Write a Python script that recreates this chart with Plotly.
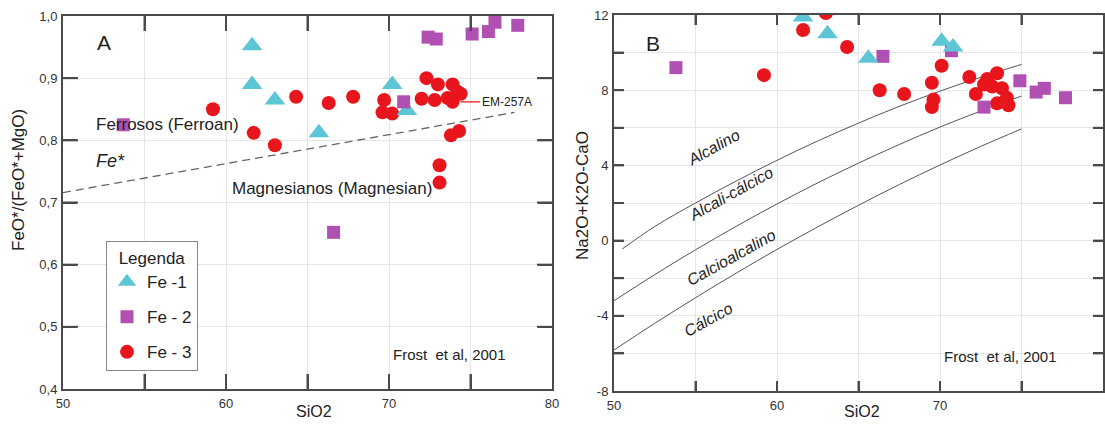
import plotly.graph_objects as go

# ---------------- Panel A data: SiO2 vs FeO*/(FeO*+MgO) ----------------
a_fe1_x = [61.6, 61.6, 63.0, 65.7, 70.2, 71.1]
a_fe1_y = [0.952, 0.890, 0.865, 0.812, 0.890, 0.848]

a_fe2_x = [53.7, 72.4, 72.9, 75.1, 76.1, 76.5, 77.9, 70.9, 66.6]
a_fe2_y = [0.825, 0.966, 0.963, 0.971, 0.975, 0.990, 0.985, 0.862, 0.652]

a_fe3_x = [59.2, 61.7, 63.0, 64.3, 66.3, 67.8, 69.7, 69.6, 70.2, 72.0, 72.3,
           73.0, 72.8, 73.6, 73.9, 73.9, 74.2, 74.4, 73.8, 74.3, 73.1, 73.1]
a_fe3_y = [0.850, 0.812, 0.792, 0.870, 0.860, 0.870, 0.865, 0.845, 0.843, 0.867, 0.900,
           0.890, 0.865, 0.868, 0.862, 0.890, 0.878, 0.875, 0.808, 0.815, 0.760, 0.732]

# Fe* boundary (Frost et al. 2001)
fe_star_x = [50.0, 77.7]
fe_star_y = [0.716, 0.845]

# ---------------- Panel B data: SiO2 vs Na2O+K2O-CaO ----------------
b_fe1_x = [61.6, 63.1, 65.6, 70.1, 70.8]
b_fe1_y = [11.9, 11.0, 9.7, 10.6, 10.3]

b_fe2_x = [53.8, 66.5, 70.7, 72.7, 74.9, 75.9, 76.4, 77.7]
b_fe2_y = [9.2, 9.8, 10.1, 7.1, 8.5, 7.9, 8.1, 7.6]

b_fe3_x = [63.0, 61.6, 64.3, 59.2, 66.3, 67.8, 69.5, 69.6, 69.5, 70.1, 71.8,
           72.2, 72.7, 72.9, 73.5, 73.8, 73.5, 74.1, 74.2, 73.2]
b_fe3_y = [12.1, 11.2, 10.3, 8.8, 8.0, 7.8, 8.4, 7.5, 7.1, 9.3, 8.7,
           7.8, 8.3, 8.6, 8.9, 8.1, 7.3, 7.6, 7.2, 8.2]

# MALI boundary curves
mali1_x = [50.5, 52.5, 55.0, 57.5, 60.0, 62.5, 65.0, 67.5, 70.0, 72.5, 75.0]
mali1_y = [-0.45, 0.75, 2.00, 3.17, 4.27, 5.30, 6.25, 7.14, 7.95, 8.69, 9.37]
mali2_x = [50.0, 52.5, 55.0, 57.5, 60.0, 62.5, 65.0, 67.5, 70.0, 72.5, 75.0]
mali2_y = [-3.20, -1.81, -0.49, 0.76, 1.95, 3.07, 4.12, 5.11, 6.04, 6.89, 7.69]
mali3_x = [50.0, 52.5, 55.0, 57.5, 60.0, 62.5, 65.0, 67.5, 70.0, 72.5, 75.0]
mali3_y = [-5.82, -4.40, -3.04, -1.73, -0.47, 0.73, 1.88, 2.98, 4.02, 5.01, 5.94]

# ticks
x_tickvals = [50, 55, 60, 65, 70, 75, 80]
x_ticktext = ["50", "", "60", "", "70", "", "80"]
a_tickvals = [0.4, 0.5, 0.6, 0.7, 0.8, 0.9, 1.0]
a_ticktext = ["0,4", "0,5", "0,6", "0,7", "0,8", "0,9", "1,0"]
b_tickvals = [-8, -6, -4, -2, 0, 2, 4, 6, 8, 10, 12]
b_ticktext = ["-8", "", "-4", "", "0", "", "4", "", "8", "", "12"]

CYAN = "#5cc6d6"
MAG = "#b150b3"
RED = "#e8161c"
AXC = "#4a4a4a"
FONT = "Liberation Sans, Arial, sans-serif"

W, H = 1105, 428
A_X = [63, 552]     # pixel extent of panel A plot area
A_Y = [16, 389]
B_X = [614, 1103]
B_Y = [15, 391]

fig = go.Figure()

def mk(x, y, xa, ya, sym, size, color, name, show):
    return go.Scatter(x=x, y=y, xaxis=xa, yaxis=ya, mode="markers", name=name,
                      legendgroup=name, showlegend=show,
                      marker=dict(symbol=sym, size=size, color=color, line=dict(width=0)))

# Panel A
fig.add_trace(go.Scatter(x=fe_star_x, y=fe_star_y, xaxis="x", yaxis="y", mode="lines",
                         line=dict(color="#666666", width=1.3, dash="8px,5px"), showlegend=False, hoverinfo="skip"))
fig.add_trace(mk(a_fe3_x, a_fe3_y, "x", "y", "circle", 14, RED, "Fe - 3", False))
fig.add_trace(mk(a_fe1_x, a_fe1_y, "x", "y", "triangle-up", 18, CYAN, "Fe -1", True))
fig.add_trace(mk(a_fe2_x, a_fe2_y, "x", "y", "square", 13, MAG, "Fe - 2", True))
fig.add_trace(mk([None], [None], "x", "y", "circle", 14, RED, "Fe - 3", True))

# Panel B
for mx, my in [(mali1_x, mali1_y), (mali2_x, mali2_y), (mali3_x, mali3_y)]:
    fig.add_trace(go.Scatter(x=mx, y=my, xaxis="x2", yaxis="y2", mode="lines", line_shape="spline",
                             line=dict(color="#555555", width=1), showlegend=False, hoverinfo="skip"))
fig.add_trace(mk(b_fe3_x, b_fe3_y, "x2", "y2", "circle", 14, RED, "Fe - 3", False))
fig.add_trace(mk(b_fe2_x, b_fe2_y, "x2", "y2", "square", 13, MAG, "Fe - 2", False))
fig.add_trace(mk(b_fe1_x, b_fe1_y, "x2", "y2", "triangle-up", 18, CYAN, "Fe -1", False))

def axis(**kw):
    d = dict(showline=True, linecolor=AXC, linewidth=2, mirror="allticks",
             ticks="inside", ticklen=14, tickwidth=2, tickcolor=AXC,
             showgrid=True, gridcolor="#e6e6e6", gridwidth=1, zeroline=False,
             showticklabels=True, ticklabelstandoff=1,
             tickfont=dict(family=FONT, size=13, color="#333333"), automargin=False)
    d.update(kw)
    return d

fig.update_layout(
    width=W, height=H, margin=dict(l=0, r=0, t=0, b=0),
    paper_bgcolor="white", plot_bgcolor="white",
    xaxis=axis(domain=[A_X[0] / W, A_X[1] / W], range=[50, 80], anchor="y",
               tickmode="array", tickvals=x_tickvals, ticktext=x_ticktext, ticklen=15),
    yaxis=axis(domain=[1 - A_Y[1] / H, 1 - A_Y[0] / H], range=[0.4, 1.0], anchor="x",
               tickmode="array", tickvals=a_tickvals, ticktext=a_ticktext, ticklen=14),
    xaxis2=axis(domain=[B_X[0] / W, B_X[1] / W], range=[50, 80], anchor="y2",
                tickmode="array", tickvals=x_tickvals, ticktext=x_ticktext, ticklen=10),
    yaxis2=axis(domain=[1 - B_Y[1] / H, 1 - B_Y[0] / H], range=[-8, 12], anchor="x2",
                tickmode="array", tickvals=b_tickvals, ticktext=b_ticktext, ticklen=10),
    legend=dict(x=106 / W, y=1 - 241 / H, xanchor="left", yanchor="top",
                bordercolor="#888888", borderwidth=1, bgcolor="white",
                font=dict(family=FONT, size=17, color="#222222"),
                title=dict(text="Legenda", side="top center", font=dict(family=FONT, size=17, color="#222222")),
                tracegroupgap=10, itemwidth=30),
    showlegend=True,
)

# inward tick marks on all four sides, drawn again as shapes (axis decoration)
shapes = []
def ticks(xref, yref, xvals, yvals, xrng, yrng, px_w, px_h, tl):
    lx = tl / px_h
    ly = tl / px_w
    for v in xvals:
        if xrng[0] < v < xrng[1]:
            for y0, y1 in [(0, lx), (1, 1 - lx)]:
                shapes.append(dict(type="line", xref=xref, yref=yref + " domain", x0=v, x1=v, y0=y0, y1=y1,
                                   line=dict(color=AXC, width=2), layer="above"))
    for v in yvals:
        if yrng[0] < v < yrng[1]:
            for x0, x1 in [(0, ly), (1, 1 - ly)]:
                shapes.append(dict(type="line", xref=xref + " domain", yref=yref, x0=x0, x1=x1, y0=v, y1=v,
                                   line=dict(color=AXC, width=2), layer="above"))

ticks("x", "y", x_tickvals, a_tickvals, [50, 80], [0.4, 1.0], A_X[1] - A_X[0], A_Y[1] - A_Y[0], 15)
ticks("x2", "y2", x_tickvals, b_tickvals, [50, 80], [-8, 12], B_X[1] - B_X[0], B_Y[1] - B_Y[0], 10)
fig.update_layout(shapes=shapes)

ann = []
def txt(x, y, t, xr, yr, size=14, italic=False, angle=0, xanchor="center", color="#222222"):
    if italic:
        t = "<i>" + t + "</i>"
    ann.append(dict(x=x, y=y, xref=xr, yref=yr, text=t, showarrow=False, textangle=angle,
                    xanchor=xanchor, yanchor="middle", font=dict(family=FONT, size=size, color=color)))

# Panel A texts
txt(52.5, 0.958, "A", "x", "y", size=21)
txt(56.4, 0.826, "Ferrosos (Ferroan)", "x", "y", size=17)
txt(52.9, 0.766, "Fe*", "x", "y", size=18, italic=True)
txt(66.5, 0.723, "Magnesianos (Magnesian)", "x", "y", size=17)
txt(73.7, 0.456, "Frost  et al, 2001", "x", "y", size=15)
ann.append(dict(x=73.9, y=0.862, xref="x", yref="y", text="EM-257A", showarrow=True,
                arrowhead=0, arrowcolor=RED, arrowwidth=1.2, ax=54, ay=0, standoff=8,
                font=dict(family=FONT, size=12, color="#222222")))
# Panel B texts
txt(52.4, 10.47, "B", "x2", "y2", size=21)
txt(56.1, 4.96, "Alcalino", "x2", "y2", size=16, italic=True, angle=-29)
txt(57.2, 2.53, "Alcali-cálcico", "x2", "y2", size=16, italic=True, angle=-29)
txt(57.2, -0.91, "Calcioalcalino", "x2", "y2", size=16, italic=True, angle=-29)
txt(55.8, -4.19, "Cálcico", "x2", "y2", size=16, italic=True, angle=-29)
txt(73.7, -6.15, "Frost  et al, 2001", "x2", "y2", size=15)

# axis titles
txt(314 / W, 1 - 411 / H, "SiO2", "paper", "paper", size=16)
txt(862 / W, 1 - 411 / H, "SiO2", "paper", "paper", size=16)
txt(19 / W, 1 - 180 / H, "FeO*/(FeO*+MgO)", "paper", "paper", size=17, angle=-90)
txt(583 / W, 1 - 196 / H, "Na2O+K2O-CaO", "paper", "paper", size=17, angle=-90)

fig.update_layout(annotations=ann)
fig.write_html("out.html", config={"displayModeBar": False},
               post_script="document.body.style.margin='0';document.body.style.overflow='hidden';")
